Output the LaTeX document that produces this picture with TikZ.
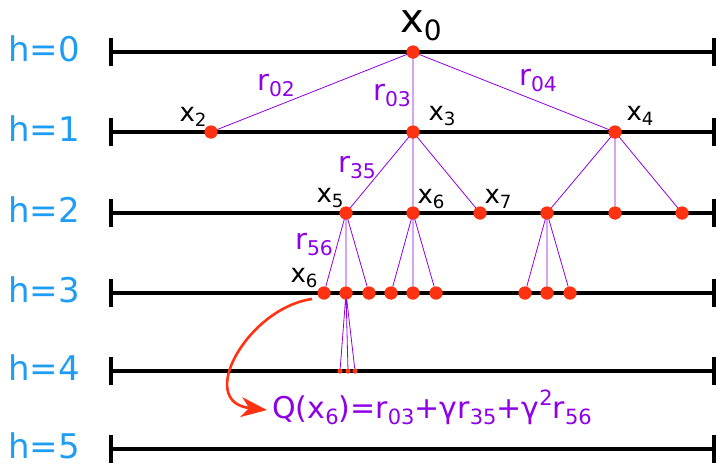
\documentclass[tikz,border=0pt]{standalone}
\usepackage{fontspec}
\setmainfont{DejaVu Sans}
\usepackage{xcolor}
\usepackage{graphicx}
\usepackage{tikz}
\usetikzlibrary{arrows.meta}
\definecolor{treered}{HTML}{FF3311}
\definecolor{treeviolet}{HTML}{8E00E6}
\definecolor{treeblue}{HTML}{1E9DF2}
\newcommand{\lowsub}[1]{\raisebox{-0.22em}{\scalebox{0.7}{#1}}}
\newcommand{\highsup}[1]{\raisebox{0.42em}{\scalebox{0.7}{#1}}}

\begin{document}
\begin{tikzpicture}[x=1pt,y=-1pt,
  lvl/.style={line width=3.4pt},
  hlab/.style={text=treeblue,font=\fontsize{34}{36}\selectfont,anchor=base west,inner sep=0pt},
  dot/.style={circle,fill=treered,inner sep=0pt,minimum size=13pt},
  tinydot/.style={circle,fill=treered,inner sep=0pt,minimum size=5pt},
  edge/.style={draw=treeviolet,line width=0.8pt},
  xlab/.style={font=\fontsize{26}{28}\selectfont,anchor=base,inner sep=0pt},
  rlab/.style={text=treeviolet,font=\fontsize{29}{31}\selectfont,anchor=base,inner sep=0pt}
]
\useasboundingbox (0,0) rectangle (717,464);
% levels
\foreach \h/\y in {0/52,1/132,2/213,3/293,4/371,5/449}{
  \draw[lvl] (111,\y) -- (714,\y);
  \draw[lvl] (111,\y-14) -- (111,\y+14);
  \draw[lvl] (714,\y-14) -- (714,\y+14);
  \node[hlab] (h\h) at (8,\y+9) {h=\h};
}
% states
\node[dot] (d0) at (413,52) {};
\node[dot] (d10) at (211,132) {};
\node[dot] (d11) at (413,132) {};
\node[dot] (d12) at (615,132) {};
\node[dot] (d20) at (346,213) {};
\node[dot] (d21) at (413,213) {};
\node[dot] (d22) at (480,213) {};
\node[dot] (d23) at (547,213) {};
\node[dot] (d24) at (615,213) {};
\node[dot] (d25) at (682,213) {};
\node[dot] (d30) at (324,293) {};
\node[dot] (d31) at (346,293) {};
\node[dot] (d32) at (369,293) {};
\node[dot] (d33) at (391,293) {};
\node[dot] (d34) at (413,293) {};
\node[dot] (d35) at (436,293) {};
\node[dot] (d36) at (525,293) {};
\node[dot] (d37) at (547,293) {};
\node[dot] (d38) at (570,293) {};
\node[tinydot] (d40) at (340,371) {};
\node[tinydot] (d41) at (348,371) {};
\node[tinydot] (d42) at (355,371) {};
% transitions
\draw[edge] (d0.center) -- (d10) (d0.center) -- (d11) (d0.center) -- (d12);
\draw[edge] (d11.center) -- (d20) (d11.center) -- (d21) (d11.center) -- (d22);
\draw[edge] (d12.center) -- (d23) (d12.center) -- (d24) (d12.center) -- (d25);
\draw[edge] (d20.center) -- (d30) (d20.center) -- (d31) (d20.center) -- (d32);
\draw[edge] (d21.center) -- (d33) (d21.center) -- (d34) (d21.center) -- (d35);
\draw[edge] (d23.center) -- (d36) (d23.center) -- (d37) (d23.center) -- (d38);
\draw[edge] (d31.center) -- (d40) (d31.center) -- (d41) (d31.center) -- (d42);
% redraw dots over the transitions
\foreach \d in {d0,d10,d11,d12,d20,d21,d22,d23,d24,d25,d30,d31,d32,d33,d34,d35,d36,d37,d38}
  \fill[treered] (\d) circle (6.5);
\foreach \d in {d40,d41,d42}
  \fill[treered] (\d) circle (2.5);
% state labels
\node[xlab,font=\fontsize{40}{42}\selectfont] (lx0) at (421,32) {x\lowsub{0}};
\node[xlab] (lx2) at (193,121) {x\lowsub{2}};
\node[xlab] (lx3) at (442,120) {x\lowsub{3}};
\node[xlab] (lx4) at (640,120) {x\lowsub{4}};
\node[xlab] (lx5) at (330,202) {x\lowsub{5}};
\node[xlab] (lx6) at (431,203) {x\lowsub{6}};
\node[xlab] (lx7) at (498,203) {x\lowsub{7}};
\node[xlab] (lx6b) at (304,282) {x\lowsub{6}};
% rewards
\node[rlab] (r02) at (276,90) {r\lowsub{02}};
\node[rlab] (r03) at (392,100) {r\lowsub{03}};
\node[rlab] (r04) at (538,85) {r\lowsub{04}};
\node[rlab] (r35) at (357,172) {r\lowsub{35}};
\node[rlab] (r56) at (314,249) {r\lowsub{56}};
% return
\node[rlab,anchor=base west,font=\fontsize{30}{32}\selectfont] (q6) at (272,418)
  {Q(x\lowsub{6})=r\lowsub{03}+γr\lowsub{35}+γ\highsup{2}r\lowsub{56}};
\coordinate (qs) at (312,299);
\coordinate (qe) at (267,410);
\draw[treered,line width=2.6pt,-{Stealth[length=26pt,width=20pt,inset=8pt]}]
  (qs) .. controls (248,308) and (195,402) .. (qe);
\end{tikzpicture}
\end{document}
